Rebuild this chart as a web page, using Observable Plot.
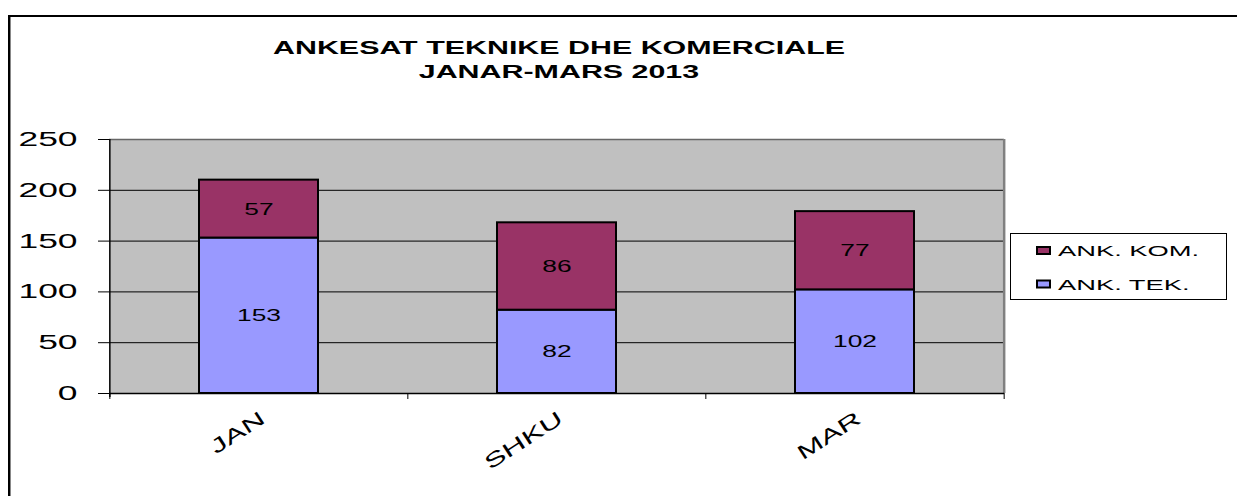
<!DOCTYPE html>
<html><head><meta charset="utf-8">
<script src="https://cdn.jsdelivr.net/npm/d3@7"></script>
<script src="https://cdn.jsdelivr.net/npm/@observablehq/plot@0.6"></script>
<style>
html,body{margin:0;padding:0;background:#fff;}
#wrap{position:relative;width:1237px;height:496px;overflow:hidden;font-family:"Liberation Sans",Arial,sans-serif;}
#border{position:absolute;left:8px;top:15px;right:-10px;bottom:-10px;border-left:2px solid #000;border-top:2px solid #000;box-shadow:inset 1px 0 0 #888;}
#chart,#overlay{position:absolute;left:0;top:0;}
</style></head><body>
<div id="wrap"><div id="border"></div><div id="chart"></div><svg id="overlay" width="1237" height="496"></svg></div>
<script>
const categories = ["JAN", "SHKU", "MAR"];
const seriesNames = ["ANK. TEK.", "ANK. KOM."];
const tekValues = [153, 82, 102];
const komValues = [57, 86, 77];
const seriesColors = ["#9999FF", "#993366"];
const yTicks = [0, 50, 100, 150, 200, 250];
const titleLines = ["ANKESAT TEKNIKE DHE KOMERCIALE", "JANAR-MARS 2013"];
const legendOrder = ["ANK. KOM.", "ANK. TEK."];

const rows = [];
categories.forEach((c, i) => rows.push({cat: c, series: seriesNames[0], value: tekValues[i]}));
categories.forEach((c, i) => rows.push({cat: c, series: seriesNames[1], value: komValues[i]}));

const W = 1237, H = 496;
const mL = 109, mR = 233, mT = 139, mB = 103;
const pI = 0.6, pO = 0.3;
const step = (W - mL - mR) / (categories.length - pI + 2 * pO);
const first = categories[0], last = categories[categories.length - 1];
const yMax = yTicks[yTicks.length - 1];

const chart = Plot.plot({
  width: W, height: H,
  marginLeft: mL, marginRight: mR, marginTop: mT, marginBottom: mB,
  style: {fontFamily: '"Liberation Sans", Arial, sans-serif', background: "transparent", color: "black"},
  x: {domain: categories, paddingInner: pI, paddingOuter: pO},
  y: {domain: [0, yMax]},
  color: {domain: seriesNames, range: seriesColors},
  marks: [
    Plot.frame({fill: "#C0C0C0", stroke: null}),
    Plot.ruleY(yTicks.filter(t => t > 0 && t < yMax), {stroke: "black", strokeWidth: 1}),
    Plot.ruleY([yMax], {stroke: "#666", strokeWidth: 1.5}),
    Plot.ruleX([last], {x: d => d, dx: step / 2, stroke: "#808080", strokeWidth: 2.5}),
    Plot.barY(rows, {x: "cat", y: "value", fill: "series", stroke: "black", strokeWidth: 2}),
    Plot.text(rows, Plot.stackY({x: "cat", y: "value", z: "series", text: d => String(d.value), fill: "black", fontSize: 17})),
    Plot.axisY({ticks: yTicks, tickSize: 11, tickPadding: 21, fontSize: 20, label: null, stroke: "black"}),
    Plot.axisX({tickSize: 0, tickPadding: 23, tickRotate: -33, fontSize: 20, label: null, dx: 4}),
    Plot.ruleX([first], {x: d => d, dx: -step / 2, y1: yMax, y2: 0, insetBottom: -4, stroke: "black", strokeWidth: 1.5}),
    Plot.ruleY([0], {stroke: "black", strokeWidth: 1.5}),
    Plot.ruleX(categories, {x: d => d, dx: -step / 2, y1: 0, y2: 0, insetBottom: -6, stroke: "black", strokeWidth: 1}),
    Plot.ruleX([last], {x: d => d, dx: step / 2, y1: 0, y2: 0, insetBottom: -6, stroke: "black", strokeWidth: 1})
  ]
});
document.getElementById("chart").appendChild(chart);

// overlay: title and legend
const ns = "http://www.w3.org/2000/svg";
const ov = document.getElementById("overlay");
function el(tag, attrs, text) {
  const e = document.createElementNS(ns, tag);
  for (const k in attrs) e.setAttribute(k, attrs[k]);
  if (text != null) e.textContent = text;
  ov.appendChild(e);
  return e;
}
const ff = '"Liberation Sans", Arial, sans-serif';
titleLines.forEach((t, i) => el("text", {x: 559, y: 54 + i * 24, "text-anchor": "middle", "font-family": ff, "font-size": 19, "font-weight": "bold", "data-stretch": 1.6}, t));
el("rect", {x: 1010.5, y: 233.5, width: 216, height: 66, fill: "white", stroke: "black", "stroke-width": 1});
legendOrder.forEach((name, i) => {
  const ci = seriesNames.indexOf(name);
  el("rect", {x: 1037, y: 247 + i * 33.5, width: 13, height: 7, fill: seriesColors[ci], stroke: "black", "stroke-width": 2});
  el("text", {x: 1058, y: 256 + i * 33.5, "font-family": ff, "font-size": 14, "data-stretch": 1.95}, name);
});

function stretch(t, f) {
  const len = t.getComputedTextLength();
  if (len > 0) {
    t.setAttribute("textLength", (len * f).toFixed(2));
    t.setAttribute("lengthAdjust", "spacingAndGlyphs");
  }
}
ov.querySelectorAll("text[data-stretch]").forEach(t => stretch(t, +t.getAttribute("data-stretch")));
chart.querySelectorAll("text").forEach(t => {
  const g = t.closest("g[aria-label]");
  const lab = g ? g.getAttribute("aria-label") : "";
  if (lab === "y-axis tick label") stretch(t, 1.77);
  else if (lab === "x-axis tick label") stretch(t, 1.6);
  else stretch(t, 1.55);
});
</script>
</body></html>
